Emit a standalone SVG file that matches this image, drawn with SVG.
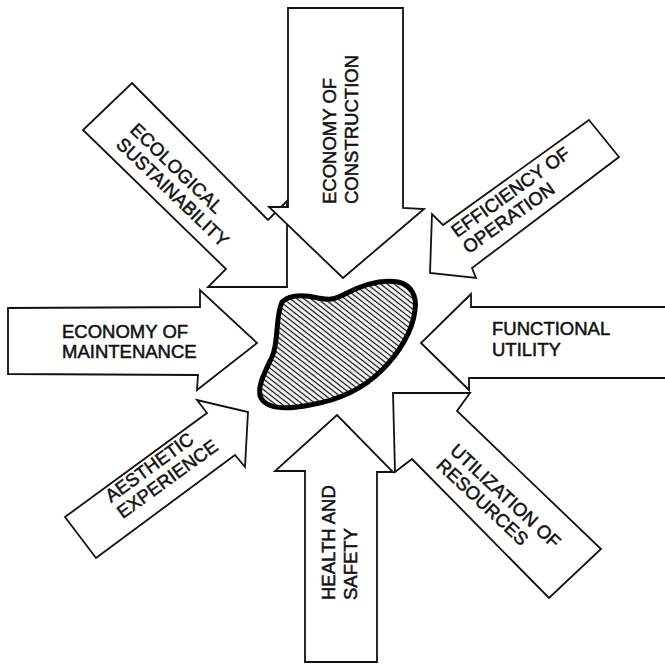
<svg xmlns="http://www.w3.org/2000/svg" width="665" height="667" viewBox="0 0 665 667">
  <defs>
    <!-- diagonal hatching for the central site shape -->
    <pattern id="hatch" patternUnits="userSpaceOnUse" width="10" height="4.2" patternTransform="rotate(38)">
      <rect width="10" height="4.2" fill="#fff"/>
      <line x1="0" y1="2.1" x2="10" y2="2.1" stroke="#111" stroke-width="1.3"/>
    </pattern>
  </defs>
  <style>
    .arrow { fill: #fff; stroke: #111; stroke-width: 1.8; stroke-linejoin: miter; }
    .lbl { font-family: "Liberation Sans", Arial, sans-serif; font-size: 18.5px; fill: #111; stroke: #111; stroke-width: 0.5; }
    .site { fill: url(#hatch); stroke: #000; stroke-width: 5; stroke-linejoin: round; }
  </style>
  <rect width="665" height="667" fill="#fff"/>

  <!-- block arrows pressing in on the site; diagonal ones sit underneath -->
  <g id="forces">
    <g id="ecological-sustainability">
      <polygon class="arrow" points="132,83 268,220 287,201 287,287 208,287 226,269 83,130"/>
      <g class="lbl" transform="translate(129,131) rotate(44)">
        <text x="0" y="0">ECOLOGICAL</text>
        <text x="0" y="20">SUSTAINABILITY</text>
      </g>
    </g>
    <g id="efficiency-of-operation">
      <polygon class="arrow" points="589,120 619,157 472,268 476,278 430,273 432,214 443,225"/>
      <g class="lbl" transform="translate(457,238) rotate(-35.5)">
        <text x="0" y="0">EFFICIENCY OF</text>
        <text x="0" y="20">OPERATION</text>
      </g>
    </g>
    <g id="aesthetic-experience">
      <polygon class="arrow" points="96,558 65,517 207,413 197,400 248,412 245,467 235,455"/>
      <g class="lbl" transform="translate(111,503) rotate(-36)">
        <text x="0" y="0">AESTHETIC</text>
        <text x="0" y="20">EXPERIENCE</text>
      </g>
    </g>
    <g id="utilization-of-resources">
      <polygon class="arrow" points="393,393 470,393 457,411 601,549 549,598 412,459 395,472"/>
      <g class="lbl" transform="translate(449,452) rotate(43)">
        <text x="0" y="0">UTILIZATION OF</text>
        <text x="0" y="20">RESOURCES</text>
      </g>
    </g>

    <g id="economy-of-construction">
      <polygon class="arrow" points="288,8 403,8 403,208 424,209 343,278 269,207 288,207"/>
      <g class="lbl" transform="translate(336,204) rotate(-90)">
        <text x="0" y="0">ECONOMY OF</text>
        <text x="0" y="22">CONSTRUCTION</text>
      </g>
    </g>
    <g id="economy-of-maintenance">
      <polygon class="arrow" points="8,308 200,307 200,290 257,343 197,390 198,375 8,374"/>
      <g class="lbl">
        <text x="62" y="338">ECONOMY OF</text>
        <text x="62" y="358">MAINTENANCE</text>
      </g>
    </g>
    <g id="functional-utility">
      <polygon class="arrow" points="667,307 471,307 471,294 421,343 469,390 469,378 667,378"/>
      <g class="lbl">
        <text x="492" y="335">FUNCTIONAL</text>
        <text x="492" y="356">UTILITY</text>
      </g>
    </g>
    <g id="health-and-safety">
      <polygon class="arrow" points="305,662 377,662 377,472 393,472 337,415 275,471 305,471"/>
      <g class="lbl" transform="translate(335,600) rotate(-90)">
        <text x="0" y="0">HEALTH AND</text>
        <text x="0" y="22">SAFETY</text>
      </g>
    </g>
  </g>

  <!-- the hatched site at the centre -->
  <g id="site">
    <path class="site" d="M 282,302 C 290,294 305,295 318,298 C 328,300 334,300 345,294 C 362,285 380,279 398,282 C 412,285 417,297 415,310 C 413,330 400,352 382,370 C 364,388 340,400 310,405 C 290,409 268,410 261,398 C 256,388 265,372 272,357 C 279,342 275,318 282,302 Z"/>
  </g>
</svg>
